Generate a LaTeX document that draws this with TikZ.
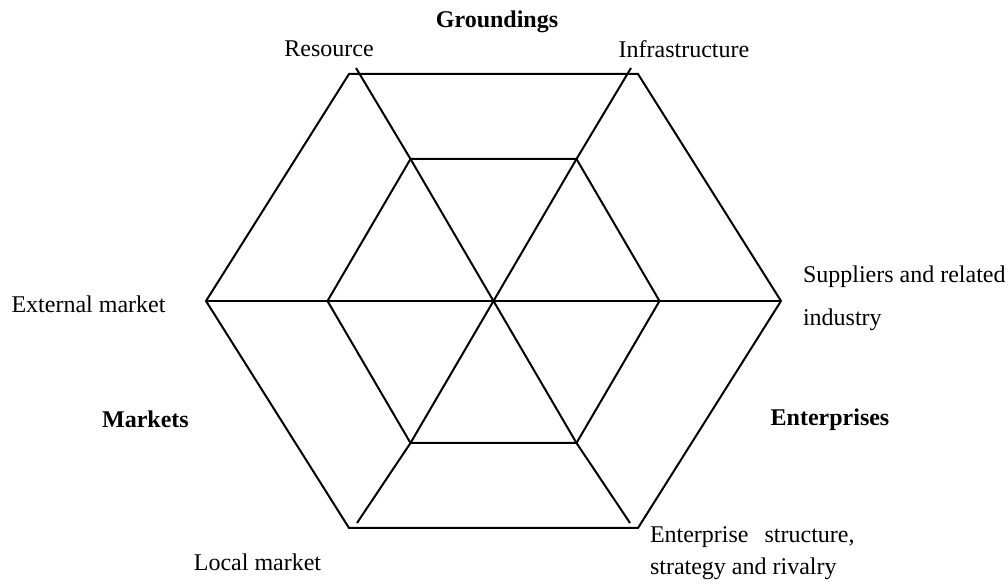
\documentclass[tikz,border=0pt]{standalone}
\usepackage{fontspec}
\setmainfont{Liberation Serif}
\begin{document}
\begin{tikzpicture}[x=0.5pt,y=-0.5pt,line width=1pt,
    lbl/.style={font=\fontsize{12}{14}\selectfont,inner sep=0pt},
    hd/.style={font=\fontsize{12}{14}\selectfont\bfseries,inner sep=0pt}]
    \useasboundingbox (0,0) rectangle (1008,587);
    % outer and inner hexagon
    \coordinate (c) at (493.5,301);
    \draw (206,301) coordinate (o1) -- (349,74) coordinate (o2) -- (638,74) coordinate (o3) --
        (781,301) coordinate (o4) -- (638,528) coordinate (o5) -- (349,528) coordinate (o6) -- cycle;
    \draw (327.5,301) coordinate (i1) -- (410.5,159) coordinate (i2) -- (576.5,159) coordinate (i3) --
        (659.5,301) coordinate (i4) -- (576.5,443) coordinate (i5) -- (410.5,443) coordinate (i6) -- cycle;
    % spokes
    \draw (o1) -- (o4);
    \coordinate (ta) at (356,68);
    \coordinate (tb) at (631,68);
    \coordinate (ba) at (630,523);
    \coordinate (bb) at (357,523);
    \draw (ta) -- (i2) -- (c) -- (i5) -- (ba);
    \draw (tb) -- (i3) -- (c) -- (i6) -- (bb);
    % labels
    \node[hd] (grd) at (497,22) {Groundings};
    \node[lbl] (res) at (329,49) {Resource};
    \node[lbl] (inf) at (684,49) {Infrastructure};
    \node[lbl] (ext) at (88.5,304) {External market};
    \node[lbl,anchor=west,align=left,font=\fontsize{12}{21.5}\selectfont] (sup) at (802,298) {Suppliers and related\\industry};
    \node[hd] (mkt) at (145.5,419) {Markets};
    \node[hd] (ent) at (830,420) {Enterprises};
    \node[lbl] (loc) at (257.5,562) {Local market};
    \node[lbl,anchor=west,align=left,font=\fontsize{12}{16}\selectfont] (str) at (649,553) {Enterprise\hspace{5pt} structure,\\strategy and rivalry};
\end{tikzpicture}
\end{document}
